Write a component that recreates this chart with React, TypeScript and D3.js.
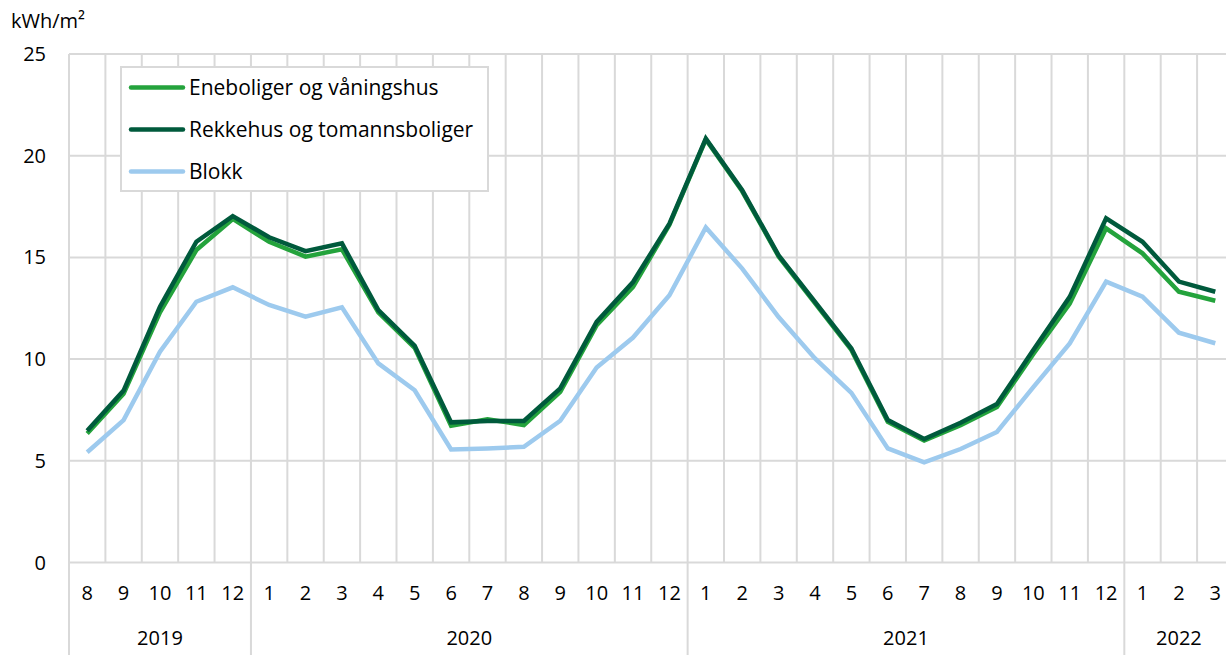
import React from "react";
import * as d3 from "d3";

const months = ["8","9","10","11","12","1","2","3","4","5","6","7","8","9","10","11","12","1","2","3","4","5","6","7","8","9","10","11","12","1","2","3"];
const years = [
  { label: "2019", start: 0, end: 4 },
  { label: "2020", start: 5, end: 16 },
  { label: "2021", start: 17, end: 28 },
  { label: "2022", start: 29, end: 31 },
];
const eneboliger = [6.34, 8.3, 12.3, 15.36, 16.89, 15.77, 15.04, 15.4, 12.3, 10.55, 6.72, 7.04, 6.76, 8.39, 11.67, 13.55, 16.6, 20.8, 18.25, 15.05, 12.75, 10.45, 6.92, 6.0, 6.75, 7.65, 10.25, 12.73, 16.43, 15.2, 13.31, 12.87];
const rekkehus = [6.48, 8.45, 12.57, 15.77, 17.03, 15.99, 15.31, 15.69, 12.41, 10.65, 6.89, 6.96, 6.96, 8.56, 11.83, 13.79, 16.66, 20.84, 18.3, 15.1, 12.81, 10.52, 7.0, 6.07, 6.87, 7.79, 10.45, 13.06, 16.92, 15.77, 13.81, 13.31];
const blokk = [5.42, 7.0, 10.36, 12.82, 13.53, 12.66, 12.09, 12.55, 9.79, 8.47, 5.56, 5.61, 5.69, 6.97, 9.59, 11.06, 13.14, 16.47, 14.45, 12.07, 10.03, 8.34, 5.61, 4.92, 5.58, 6.42, 8.62, 10.77, 13.81, 13.07, 11.3, 10.78];
const yTicks = [0, 5, 10, 15, 20, 25];

const series = [
  { name: "Eneboliger og våningshus", values: eneboliger, color: "#24a33c" },
  { name: "Rekkehus og tomannsboliger", values: rekkehus, color: "#005a3c" },
  { name: "Blokk", values: blokk, color: "#9dcaee" },
];

const W = 1226, H = 655;
const left = 69, bandW = 36.39;
const top = 54, bottom = 562.5;
const grid = "#d9d9d9";
const font = "'Open Sans', 'Noto Sans', sans-serif";

export default function App() {
  const idx = months.map((_, i) => String(i));
  const x = d3.scaleBand<string>().domain(idx).range([left, left + bandW * months.length]).padding(0);
  const y = d3.scaleLinear().domain([0, 25]).range([bottom, top]);
  const cx = (i: number) => (x(String(i)) as number) + x.bandwidth() / 2;
  const line = d3.line<number>().x((_, i) => cx(i)).y((d) => y(d));
  const right = left + bandW * months.length;
  const yearStarts = new Set(years.map((yy) => yy.start));
  const drawOrder = [2, 0, 1];

  return (
    <svg width={W} height={H} style={{ position: "absolute", left: 0, top: 0, background: "#fff" }} fontFamily={font}>
      {yTicks.map((t) => (
        <line key={"h" + t} x1={left} x2={right} y1={y(t)} y2={y(t)} stroke={grid} strokeWidth={2} />
      ))}
      {months.map((_, i) => {
        const xx = x(String(i)) as number;
        const long = yearStarts.has(i);
        return <line key={"v" + i} x1={xx} x2={xx} y1={top} y2={long ? H : bottom} stroke={grid} strokeWidth={2} />;
      })}
      {yTicks.map((t) => (
        <text key={"yt" + t} x={46} y={y(t)} dy="0.35em" textAnchor="end" fontSize={20} fill="#000">{t}</text>
      ))}
      <text x={11} y={28} fontSize={20} fill="#000">kWh/m²</text>
      {months.map((m, i) => (
        <text key={"m" + i} x={cx(i)} y={593} dy="0.35em" textAnchor="middle" fontSize={20} fill="#000">{m}</text>
      ))}
      {years.map((yy) => {
        const a = x(String(yy.start)) as number;
        const b = (x(String(yy.end)) as number) + x.bandwidth();
        return <text key={yy.label} x={(a + b) / 2} y={638} dy="0.35em" textAnchor="middle" fontSize={20} fill="#000">{yy.label}</text>;
      })}
      {drawOrder.map((k) => (
        <path key={series[k].name} d={line(series[k].values) as string} fill="none" stroke={series[k].color} strokeWidth={4.5} strokeLinejoin="miter" />
      ))}
      <rect x={121} y={67} width={367} height={124} fill="#fff" stroke={grid} strokeWidth={2} />
      {series.map((s, i) => (
        <g key={"lg" + i}>
          <line x1={131} x2={183} y1={87.5 + i * 42} y2={87.5 + i * 42} stroke={s.color} strokeWidth={4.5} strokeLinecap="round" />
          <text x={189} y={87.5 + i * 42} dy="0.35em" fontSize={21} fill="#000">{s.name}</text>
        </g>
      ))}
    </svg>
  );
}
